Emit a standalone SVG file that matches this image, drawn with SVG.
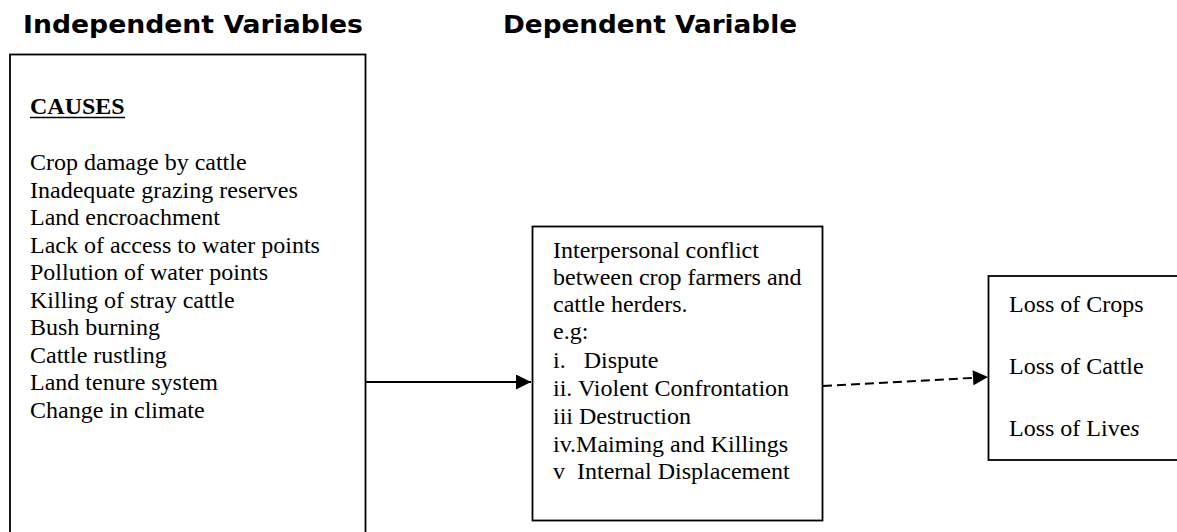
<svg xmlns="http://www.w3.org/2000/svg" width="1177" height="532" viewBox="0 0 1177 532">
<style>
.head{font-family:"DejaVu Sans",Verdana,sans-serif;font-weight:bold;font-size:24px;fill:#000}
.body{font-family:"Liberation Serif","Times New Roman",serif;font-size:24px;fill:#000}
.box{fill:#fff;stroke:#000;stroke-width:1.8}
.conn{stroke:#000;stroke-width:2;fill:none}
</style>
<defs>
<marker id="ah" viewBox="0 0 16 16" refX="16" refY="8" markerWidth="16" markerHeight="15" markerUnits="userSpaceOnUse" orient="auto">
<path d="M0,0 L16,8 L0,16 z" fill="#000"/>
</marker>
</defs>
<rect width="1177" height="532" fill="#fff"/>
<g id="headings">
<text class="head" x="23" y="33" textLength="340" lengthAdjust="spacingAndGlyphs">Independent Variables</text>
<text class="head" x="503" y="33" textLength="294" lengthAdjust="spacingAndGlyphs">Dependent Variable</text>
</g>
<g id="causes">
<rect class="box" x="10" y="54.5" width="355.5" height="500"/>
<text class="body" x="30" y="114" font-weight="bold">CAUSES</text>
<line x1="30" y1="117.5" x2="125" y2="117.5" stroke="#000" stroke-width="1.6"/>
<text class="body" x="30" y="170">Crop damage by cattle</text>
<text class="body" x="30" y="197.5">Inadequate grazing reserves</text>
<text class="body" x="30" y="225">Land encroachment</text>
<text class="body" x="30" y="252.5">Lack of access to water points</text>
<text class="body" x="30" y="280">Pollution of water points</text>
<text class="body" x="30" y="307.5">Killing of stray cattle</text>
<text class="body" x="30" y="335">Bush burning</text>
<text class="body" x="30" y="362.5">Cattle rustling</text>
<text class="body" x="30" y="390">Land tenure system</text>
<text class="body" x="30" y="417.5">Change in climate</text>
</g>
<g id="conflict">
<rect class="box" x="532.5" y="226.5" width="290" height="294"/>
<text class="body" x="553" y="258">Interpersonal conflict</text>
<text class="body" x="553" y="285">between crop farmers and</text>
<text class="body" x="553" y="312">cattle herders.</text>
<text class="body" x="553" y="339">e.g:</text>
<text class="body" x="553" y="368" xml:space="preserve">i.   Dispute</text>
<text class="body" x="553" y="396">ii. Violent Confrontation</text>
<text class="body" x="553" y="424">iii Destruction</text>
<text class="body" x="553" y="451.5">iv.Maiming and Killings</text>
<text class="body" x="553" y="479" xml:space="preserve">v  Internal Displacement</text>
</g>
<g id="losses">
<rect class="box" x="988.5" y="276" width="200" height="184"/>
<text class="body" x="1009" y="312">Loss of Crops</text>
<text class="body" x="1009" y="373.5">Loss of Cattle</text>
<text class="body" x="1009" y="435.5">Loss of Live<tspan font-style="italic">s</tspan></text>
</g>
<g id="connectors">
<line class="conn" x1="366" y1="382" x2="531" y2="382" marker-end="url(#ah)"/>
<line class="conn" x1="823" y1="386" x2="988" y2="377" stroke-dasharray="9,5" marker-end="url(#ah)"/>
</g>
</svg>
